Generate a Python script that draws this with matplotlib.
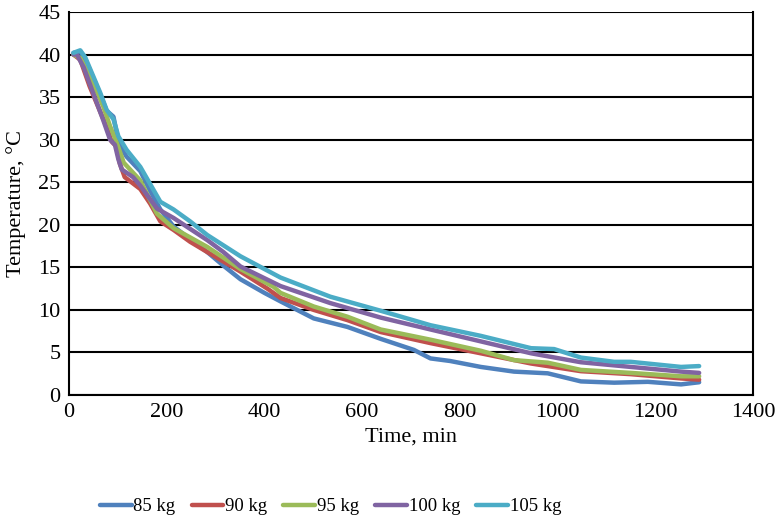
import matplotlib.pyplot as plt

plt.rcParams['font.family'] = ['Liberation Serif', 'DejaVu Serif']

# Cooling curves (time in min, temperature in °C)
t_85 = [9, 23, 33, 50, 64, 77, 91, 97, 104, 118, 146, 166, 187, 214, 248, 283, 316, 351, 400, 433,
        467, 501, 570, 638, 706, 740, 780, 843, 911, 980, 1048, 1116, 1185, 1253, 1290]
temp_85 = [40.2, 40.3, 39.5, 37.2, 35.3, 33.4, 32.7, 31, 29.3, 28, 26.3, 24, 21.8, 19.8, 18.3, 16.8, 15.2,
           13.6, 12, 11, 10, 9, 8, 6.6, 5.3, 4.3, 4, 3.3, 2.75, 2.55, 1.6, 1.45, 1.55, 1.25, 1.5]

t_90 = [9, 23, 42, 63, 77, 87, 97, 104, 114, 146, 166, 187, 214, 248, 283, 351, 406, 433, 501, 570,
        638, 740, 843, 946, 1048, 1150, 1253, 1290]
temp_90 = [40, 39.4, 36.3, 33.4, 31.5, 29.8, 29.2, 27.2, 25.6, 24.2, 22.5, 20.4, 19.4, 18, 16.8, 14.5,
           12.5, 11.4, 10, 8.8, 7.4, 6.1, 4.9, 3.7, 2.8, 2.45, 1.95, 1.8]

t_95 = [9, 23, 50, 70, 84, 98, 112, 146, 180, 214, 283, 351, 419, 433, 501, 570, 638, 740, 843, 911,
        980, 1048, 1150, 1253, 1290]
temp_95 = [40, 39.6, 36.6, 33.9, 31.6, 29.6, 27.3, 25.2, 21.3, 19.6, 17.4, 14.8, 12.7, 12, 10.4, 9.2,
           7.7, 6.5, 5.2, 4.1, 3.8, 2.95, 2.6, 2.2, 2.2]

t_100 = [9, 16, 30, 50, 70, 84, 94, 101, 108, 131, 146, 180, 214, 283, 316, 351, 433, 535, 638, 740,
         843, 946, 1048, 1150, 1253, 1290]
temp_100 = [40, 40, 38.5, 35.4, 32.3, 30, 29.4, 27.7, 26.5, 25.6, 24.6, 21.9, 20.8, 18.2, 16.8, 15.1, 12.8,
            10.8, 9.1, 7.7, 6.3, 4.9, 3.85, 3.3, 2.75, 2.6]

t_105 = [9, 23, 33, 50, 64, 77, 91, 101, 118, 146, 166, 187, 214, 248, 283, 351, 433, 535, 638, 740,
         843, 946, 993, 1048, 1116, 1150, 1253, 1290]
temp_105 = [40.2, 40.5, 39.7, 37.4, 35.5, 33.5, 32.4, 30.4, 28.8, 26.8, 24.8, 22.7, 21.8, 20.4, 18.8,
            16.3, 13.8, 11.55, 9.9, 8.2, 6.95, 5.5, 5.4, 4.4, 3.9, 3.9, 3.3, 3.4]

series = [
    ("85 kg", t_85, temp_85, "#4F81BD"),
    ("90 kg", t_90, temp_90, "#C0504D"),
    ("95 kg", t_95, temp_95, "#9BBB59"),
    ("100 kg", t_100, temp_100, "#8064A2"),
    ("105 kg", t_105, temp_105, "#4BACC6"),
]

fig = plt.figure(figsize=(7.78, 5.21), dpi=100)
ax = fig.add_axes([0.0887, 0.2418, 0.879, 0.7352])

for label, t, temp, color in series:
    ax.plot(t, temp, color=color, lw=3.2, label=label,
            solid_joinstyle="round", solid_capstyle="round")

ax.set_xlim(0, 1400)
ax.set_ylim(0, 45)
ax.set_xticks(range(0, 1401, 200))
ax.set_yticks(range(0, 46, 5))
ax.yaxis.grid(True, color="black", lw=1.5)
ax.set_axisbelow(True)
ax.tick_params(length=0, labelsize=16, pad=6)
for side in ["left", "right", "bottom"]:
    ax.spines[side].set_linewidth(1.5)
ax.spines["top"].set_visible(False)

ax.set_xlabel("Time, min", fontsize=16, labelpad=4)
ax.set_ylabel("Temperature, °C", fontsize=16, labelpad=9)

fig.legend(loc="center", bbox_to_anchor=(0.425, 0.027), ncol=5, frameon=False,
           fontsize=13.5, handlelength=1.7, handletextpad=0.1, columnspacing=0.85)

fig.savefig("out.png", dpi=100)
